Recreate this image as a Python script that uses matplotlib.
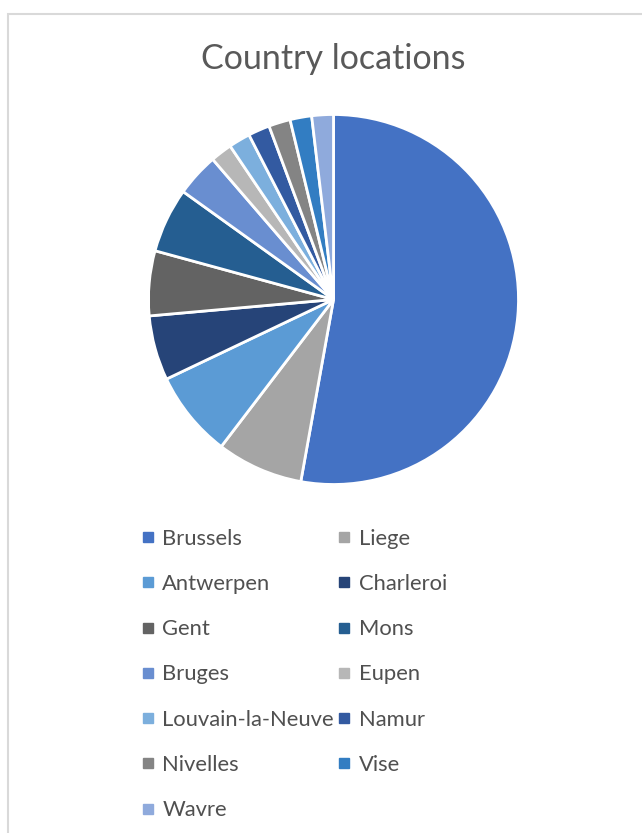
import matplotlib
matplotlib.use("Agg")
import matplotlib.pyplot as plt
from matplotlib.patches import Rectangle
from matplotlib.lines import Line2D

plt.rcParams["font.family"] = ["Lato", "DejaVu Sans"]

cities = ["Brussels", "Liege", "Antwerpen", "Charleroi", "Gent", "Mons", "Bruges",
          "Eupen", "Louvain-la-Neuve", "Namur", "Nivelles", "Vise", "Wavre"]
counts = [28, 4, 4, 3, 3, 3, 2, 1, 1, 1, 1, 1, 1]
colors = ["#4472C4", "#A5A5A5", "#5B9BD5", "#264478", "#636363", "#255E91", "#698ED0",
          "#B7B7B7", "#7CAFDD", "#335AA1", "#848484", "#327DC2", "#8FAADC"]

W, H = 642, 833
fig = plt.figure(figsize=(W / 100, H / 100), dpi=100)

# chart frame (cropped at right/bottom)
fig.patches.append(Rectangle((8 / W, -0.1), 1.1, (H - 14) / H + 0.1, transform=fig.transFigure,
                             fill=False, edgecolor="#D9D9D9", linewidth=1.5))

fig.text(333 / W, 1 - 59 / H, "Country locations", ha="center", va="center",
         fontsize=24.5, color="#595959")

cx, cy, r = 333.5, 299.5, 185
ax = fig.add_axes([(cx - r) / W, 1 - (cy + r) / H, 2 * r / W, 2 * r / H])
ax.pie(counts, colors=colors, startangle=90, counterclock=False,
       wedgeprops=dict(edgecolor="white", linewidth=2))
ax.set_xlim(-1, 1)
ax.set_ylim(-1, 1)
ax.axis("off")

# legend, row-major order across two columns
handles = [Line2D([], [], marker="s", linestyle="none", markersize=6.5,
                  markerfacecolor=c, markeredgecolor=c) for c in colors]
order = list(range(0, len(cities), 2)) + list(range(1, len(cities), 2))
leg = fig.legend([handles[i] for i in order], [cities[i] for i in order],
                 ncol=2, loc="upper left", bbox_to_anchor=(133 / W, 1 - 520 / H),
                 frameon=False, fontsize=15.8, labelcolor="#505050",
                 handlelength=0.55, handletextpad=0.38, columnspacing=0.2,
                 labelspacing=1.15, borderaxespad=0)

fig.savefig("out.png", dpi=100)
